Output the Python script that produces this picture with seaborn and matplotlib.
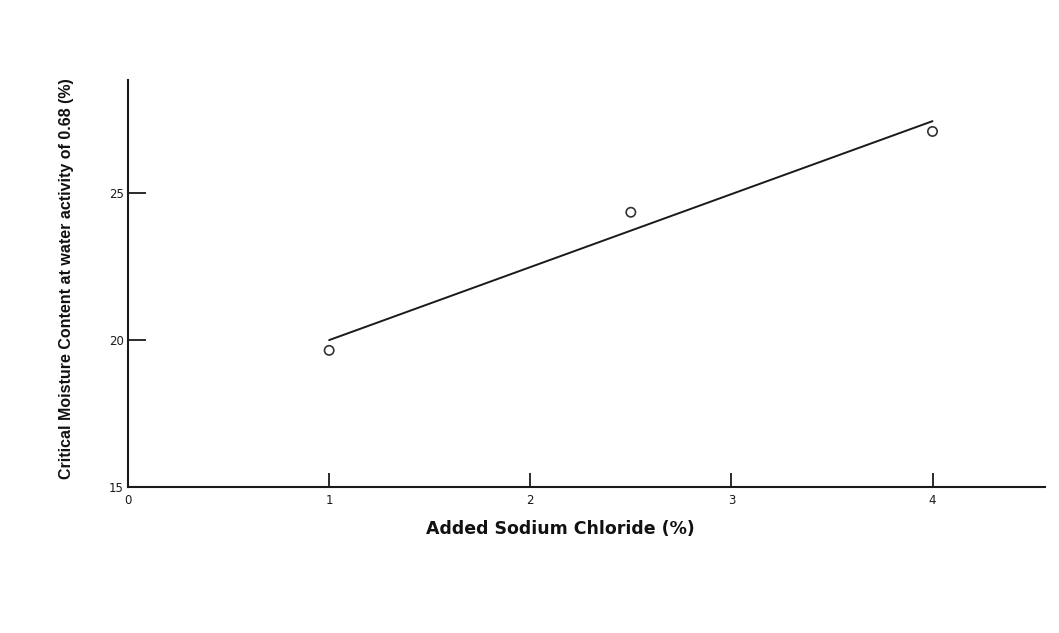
import seaborn as sns
import matplotlib.pyplot as plt

# data
salt_pct = [1, 2.5, 4]
moisture = [19.65, 24.35, 27.1]

# fitted line end points
fit_x = [1, 4]
fit_y = [20.0, 27.45]

sns.set_style("ticks")
plt.rcParams["font.family"] = ["DejaVu Sans"]

fig = plt.figure(figsize=(10.59, 6.33), dpi=100)
ax = fig.add_axes([0.1209, 0.2306, 0.866, 0.643])

sns.lineplot(x=fit_x, y=fit_y, ax=ax, color="#1a1a1a", linewidth=1.4)
sns.scatterplot(x=salt_pct, y=moisture, ax=ax, marker="o", s=45,
                facecolors="none", edgecolor="#333333", linewidth=1.2)

ax.set_xlim(0, 4.56)
ax.set_ylim(15, 28.85)
ax.set_xticks([0, 1, 2, 3, 4])
ax.set_yticks([15, 20, 25])

sns.despine(ax=ax)
for side in ["left", "bottom"]:
    ax.spines[side].set_color("#1a1a1a")
    ax.spines[side].set_linewidth(1.5)

ax.tick_params(axis="x", direction="in", length=10, width=1.3, pad=5,
               labelsize=8.5, colors="#1a1a1a", bottom=True)
ax.tick_params(axis="y", direction="in", length=13, width=1.3, pad=3,
               labelsize=8.5, colors="#1a1a1a", left=True)

ax.set_xlabel("Added Sodium Chloride (%)", fontsize=12.5, fontweight="bold",
              color="#111111")
ax.xaxis.set_label_coords(0.471, -0.08)
ax.set_ylabel("Critical Moisture Content at water activity of 0.68 (%)",
              fontsize=11.5, fontweight="bold", color="#111111",
              family=["Liberation Sans", "DejaVu Sans"])
ax.yaxis.set_label_coords(-0.059, 0.511)

fig.savefig("out.png", dpi=100, facecolor="white")
